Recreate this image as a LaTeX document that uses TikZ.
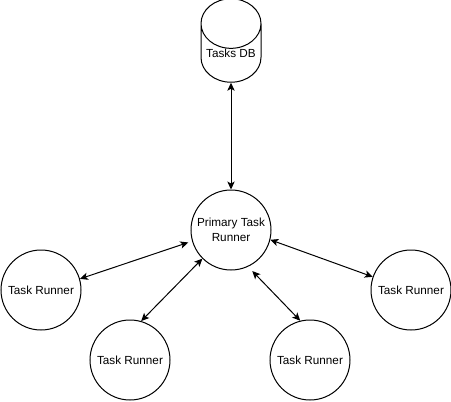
\documentclass[tikz,border=0pt]{standalone}
\usepackage{fontspec}
\setmainfont{Liberation Sans}
\usetikzlibrary{arrows.meta, shapes.geometric}
\def\Wth{0.75pt}
\def\Rad{60pt}
\tikzset{
    runner/.style={
        draw=black, circle, line width=\Wth, inner sep=0pt,
        minimum size=\Rad, align=center, font=\fontsize{8.8}{11.25}\selectfont
    },
    store/.style={
        draw=black, cylinder, shape border rotate=90, aspect=1, line width=\Wth,
        inner sep=0pt, minimum width=45pt, minimum height=60pt, anchor=shape center,
        font=\fontsize{8.8}{11.25}\selectfont
    },
    link/.style={
        {Stealth[length=6pt,width=5.5pt,inset=1.5pt]}-{Stealth[length=6pt,width=5.5pt,inset=1.5pt]},
        line width=\Wth, shorten <=#1
    },
    link/.default=0pt
}
\begin{document}
\begin{tikzpicture}[x=0.75pt, y=-0.75pt]
    \useasboundingbox (0,0) rectangle (451,401);
    \fill[white] (0,0) rectangle (451,401);

    \node[store] (db) at (231,40.5) {Tasks DB};
    \node[runner] (primary) at (231,230) {Primary Task\\Runner};
    \node[runner] (runnerA) at (41,290) {Task Runner};
    \node[runner] (runnerB) at (130,360) {Task Runner};
    \node[runner] (runnerC) at (310,360) {Task Runner};
    \node[runner] (runnerD) at (411,290) {Task Runner};

    \draw[link] (db.south) -- (primary.north);
    \draw[link=3pt] (primary.196.5) -- (runnerA.16.7);
    \draw[link] (primary.225) -- (runnerB.74.6);
    \draw[link=4.5pt] (primary.295.5) -- (runnerC.104);
    \draw[link] (primary.346) -- (runnerD.161.6);
\end{tikzpicture}
\end{document}
